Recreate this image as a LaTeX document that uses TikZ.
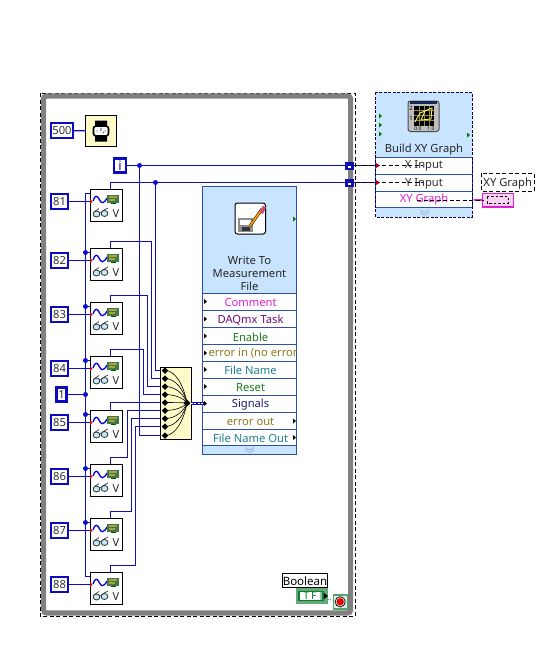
\documentclass[tikz,border=0pt]{standalone}
\usepackage{fontspec}
\usetikzlibrary{shapes.geometric}
\setmainfont{Noto Sans}
\newcommand{\lvfont}{\fontsize{11.2}{13}\selectfont}
\definecolor{wireblue}{HTML}{0C0CC8}
\definecolor{navywire}{HTML}{1010B0}
\definecolor{constblue}{HTML}{0A0AC0}
\definecolor{nodeblue}{HTML}{C8E4FF}
\definecolor{rowline}{HTML}{2A50A8}
\definecolor{loopgray}{HTML}{808080}
\definecolor{pale}{HTML}{FFFBC8}
\definecolor{magentatext}{HTML}{E020D0}
\definecolor{purpletext}{HTML}{700A70}
\definecolor{greentext}{HTML}{1F7A1F}
\definecolor{olivetext}{HTML}{8A7A20}
\definecolor{tealtext}{HTML}{1F7F8F}
\definecolor{navytext}{HTML}{1A1A70}
\definecolor{boolgreen}{HTML}{107A30}
\definecolor{chipgreen}{HTML}{3F7A45}
\definecolor{chipgold}{HTML}{B0A040}
\tikzset{
  x=1pt,y=-1pt,
  every node/.style={font=\lvfont,inner sep=0pt,outer sep=0pt},
  constbox/.style={draw=constblue,line width=2.4pt,fill=white,anchor=center,text=black!80},
  vibox/.style={draw=black,line width=1pt,fill=white,minimum width=32pt,minimum height=32pt,anchor=north west},
  wire/.style={draw=wireblue,line width=1.2pt},
  navy/.style={draw=navywire,line width=1.2pt},
  junction/.style={circle,fill=wireblue,minimum size=5pt},
  mdot/.style={diamond,fill=black,minimum size=6.5pt},
  rowbox/.style={draw=rowline,line width=0.8pt,fill=white,anchor=north west,minimum width=94.5pt},
  xyrow/.style={draw=rowline,line width=0.8pt,fill=white,anchor=north west,minimum width=96.5pt},
  brokenwire/.style={draw=black,line width=1pt,dash pattern=on 4pt off 2.5pt},
  termtri/.style={fill=black},
  vi/.pic={
    \draw[line width=1.3pt,color=blue!90!black] (3,12) .. controls (5,6) and (7,6) .. (9,10) .. controls (11,15) and (14,15) .. (17,9);
    \fill[chipgreen] (17,5.5) rectangle (29,13.5);
    \fill[chipgold] (19,7) rectangle (27,8.5);
    \fill[chipgold] (19,10) rectangle (25,11.5);
    \fill[green!35!black] (21,13.5) rectangle (26,15);
    \fill[red!85!black] (0,10) -- (2.5,12.5) -- (0,15) -- cycle;
    \draw[line width=0.8pt,color=black!80,fill=cyan!25] (6.5,25) ellipse (3.4 and 3);
    \draw[line width=0.8pt,color=black!80,fill=cyan!25] (14.5,24.5) ellipse (3.4 and 3);
    \draw[line width=0.7pt,color=black!80] (4.5,22.5) -- (9,19.5) (12.5,22) -- (18,19) (9.5,23.5) -- (11.5,23);
    \node[text=black!85,font=\fontsize{11}{11}\rmfamily] at (26,25) {V};
  }
}
\begin{document}
\begin{tikzpicture}
\useasboundingbox (0,0) rectangle (541,654);
\fill[white] (0,0) rectangle (541,654);

% while loop
\draw[brokenwire] (40,93) rectangle (355,616);
\draw[draw=loopgray,line width=5.2pt,rounded corners=3pt] (43.6,96) rectangle (350.6,613);

% VIs
\foreach \n/\y in {81/189,82/248,83/302,84/356,85/410,86/464,87/518,88/572}{
  \node[vibox] (vi\n) at (90,\y) {};
  \coordinate (top\n) at (110.5,\y);
  \coordinate (in\n) at (90,\y+12.5);
  \coordinate (dataIn\n) at (90,\y+4.5);
  \coordinate (bus\n) at (85.5,\y+4.5);
  \node[constbox,minimum width=17pt,minimum height=15.5pt] (c\n) at (59.5,\y+12.5) {\n};
}

% merge
\node[draw=black,line width=1pt,fill=pale,minimum width=31pt,minimum height=71.5pt,anchor=north west] (merge) at (160.5,367.5) {};
\coordinate (mout) at (187,403);
\foreach \i/\y in {1/370.5,2/378.5,3/386.5,4/394.5,5/402.5,6/410.5,7/418.5,8/426.5,9/435.5}{
  \coordinate (pin\i) at (160.5,\y);
  \draw[black,line width=0.6pt] (165,\y) .. controls (176,\y) and (184,{(\y+403)/2}) .. (mout);
  \node[mdot] (m\i) at (165,\y) {};
}
\node[diamond,fill=black,minimum size=7pt] (moutdot) at (mout) {};

% wait
\node[constbox,minimum width=22pt,minimum height=15.5pt] (c500) at (62,130.5) {500};
\node[draw=black,line width=1pt,fill=pale,minimum width=31pt,minimum height=31pt] (wait) at (101,131) {};
\fill[black] (95,120.5) rectangle (107,127) (95,135) rectangle (107,141.5);
\draw[black,line width=1.6pt,fill=white,rounded corners=2.5pt] (93.5,126) rectangle (108.5,136);
\draw[black,line width=0.8pt] (101,127.5) -- (101,131) (96.5,131) -- (97.5,131) (104.5,131) -- (105.5,131) (103,132) -- (103.5,132.5);
\draw[wire] (c500) -- (wait);

% i
\node[constbox,minimum width=12.5pt,minimum height=14pt,text=navywire,font=\fontsize{13}{13}\selectfont\bfseries] (iter) at (120,165.5) {i};

% write to measurement file
\node[draw=rowline,line width=0.8pt,fill=nodeblue,anchor=north west,minimum width=94.5pt,minimum height=268pt] (wmf) at (202.3,186.5) {};
\node[anchor=center,align=center,text=black!85] (wmft) at (249.5,273.5) {Write To\\Measurement\\File};
\foreach \nm/\t/\h/\lab/\col in {rc/293.3/17.3/Comment/magentatext,rd/310.6/17.2/DAQmx Task/purpletext,re/327.8/17/Enable/greentext,rf/344.8/16.5/{}/olivetext,rg/361.3/17/File Name/tealtext,rh/378.3/16.8/Reset/greentext,ri/395.1/17.2/Signals/navytext,rj/412.3/17.3/error out/olivetext,rk/429.6/16/File Name Out/tealtext}{
  \node[rowbox,minimum height=\h pt] (\nm) at (202.3,\t) {};
  \node[text=\col] at ([xshift=1pt,yshift=-0.7pt]\nm.center) {\lab};
}
\begin{scope}
\clip (203,345) rectangle (296,361);
\node[text=olivetext,anchor=west] (errin) at (208.5,353.3) {error in (no error};
\end{scope}
\foreach \y in {301.5,319,336,353,369.5,386.5,403.5}{\fill[termtri] (204,\y-2.5) -- (207,\y) -- (204,\y+2.5) -- cycle;}
\foreach \y in {421,437.5}{\fill[termtri] (293,\y-2.5) -- (296,\y) -- (293,\y+2.5) -- cycle;}
\fill[green!45!black] (293,216.5) -- (296,219) -- (293,221.5) -- cycle;
\draw[rowline!50,line width=0.6pt] (245,447.5) -- (249.5,450) -- (254,447.5) (245,450) -- (249.5,452.5) -- (254,450);
% write icon
\draw[black,line width=1pt,fill=white,rounded corners=2.5pt] (235,203) rectangle (265.5,234);
\fill[black!45] (238,218) rectangle (253,232);
\fill[white] (240,220) rectangle (251,225);
\fill[black!80] (242,227) rectangle (250,231);
\draw[black,line width=2.8pt] (250,226) -- (262,209);
\draw[orange!80!yellow,line width=1.9pt] (250,226) -- (262,209);
\fill[purple!70] (259.5,212) -- (263,214) -- (266,207.5) -- (263,205.5) -- cycle;

% build xy graph
\node[draw=none,fill=nodeblue,anchor=north west,minimum width=96.5pt,minimum height=125pt] (bxy) at (375.8,92.3) {};
\node[text=black!85] (bxyt) at (424,149.5) {Build XY Graph};
\node[xyrow,minimum height=17pt] (bx) at (375.8,157.3) {};
\node[xyrow,minimum height=17.5pt] (by) at (375.8,174.3) {};
\node[xyrow,minimum height=15.7pt] (bg) at (375.8,191.8) {};
\node[text=black!80] at (424,166) {X Input};
\node[text=black!80] at (424,183.5) {Y Input};
\node[text=magentatext] at (424,200) {XY Graph};
\draw[draw=black!70!blue,line width=1.1pt,dash pattern=on 3pt off 1.5pt] (bxy.north west) rectangle (bxy.south east);
\draw[rowline!50,line width=0.6pt] (420,210) -- (424.5,212.5) -- (429,210) (420,212.5) -- (424.5,215) -- (429,212.5);
\foreach \y in {116,125,134}{\fill[green!45!black] (379,\y-2.5) -- (382,\y) -- (379,\y+2.5) -- cycle;}
\fill[green!45!black] (467,132.5) -- (470,135) -- (467,137.5) -- cycle;
% build icon
\draw[black!70,line width=1pt,fill=black!25,rounded corners=2.5pt] (408,101) rectangle (439,131.5);
\fill[rowline!50!black] (410,101) rectangle (437,104);
\fill[black] (414,105.5) rectangle (434,125.5);
\draw[yellow!50!black,line width=0.4pt] (419,105.5) -- (419,125.5) (424,105.5) -- (424,125.5) (429,105.5) -- (429,125.5) (414,110) -- (434,110) (414,115) -- (434,115) (414,120) -- (434,120);
\draw[yellow!70!white,line width=0.9pt] (415,122) -- (420,113) -- (432,108) -- (431,119) -- (421,120) -- (425,111);
\node[font=\fontsize{6}{6}\selectfont,text=black] at (411,108) {2};
\node[font=\fontsize{6}{6}\selectfont,text=black] at (411,118) {1};
\node[font=\fontsize{5}{5}\selectfont,text=black] at (418,128.5) {0.0};
\node[font=\fontsize{5}{5}\selectfont,text=black] at (431,128.5) {1.0};

% wires
\coordinate (t1) at (349.5,165.5);
\coordinate (t2) at (349.5,182.5);
\draw[wire] (iter) -- (t1);
\draw[wire] (139.5,165.5) |- (pin9);
\node[junction] (ji) at (139.5,165.5) {};
\draw[navy] (top81) |- (t2);
\draw[wire] (155.5,182.5) |- (pin1);
\node[junction] (jw) at (155.5,182.5) {};
\draw[navy] (top82) |- (151.5,241.5) |- (pin2);
\draw[navy] (top83) |- (147.5,295.5) |- (pin3);
\draw[navy] (top84) |- (143.5,349.5) |- (pin4);
\draw[navy] (top85) |- (pin5);
\draw[navy] (top86) |- (127.5,457.5) |- (pin6);
\draw[navy] (top87) |- (131.5,511.5) |- (pin7);
\draw[navy] (top88) |- (135.5,565.5) |- (pin8);

% shared bus
\draw[wire] (dataIn81) -- (bus81) -- (bus88) -- (dataIn88);
\foreach \n in {82,83,84,85,86,87}{
  \draw[wire] (bus\n) -- (dataIn\n);
  \node[junction] at (bus\n) {};
}
\node[constbox,minimum width=10pt,minimum height=14pt] (cone) at (61.5,394.5) {1};
\coordinate (jonec) at (85.5,394.5);
\draw[wire] (cone) -- (jonec);
\node[junction] (jone) at (jonec) {};
\foreach \n in {81,82,83,84,85,86,87,88}{
  \draw[wire] (c\n) -- (in\n);
  \pic at (vi\n.north west) {vi};
}
% dynamic wire
\coordinate (sigin) at (204,403);
\draw[navywire,line width=3pt] (moutdot) -- (sigin);
\draw[white,line width=0.9pt,dash pattern=on 2pt off 1.5pt] (moutdot) -- (sigin);

% tunnels
\draw[navywire,line width=1.8pt] (t1) -- (378,165.5);
\draw[navywire,line width=1.8pt] (t2) -- (378,182.5);
\coordinate (xend) at (423,165.5);
\coordinate (yend) at (423,182.5);
\draw[brokenwire] (t1) -- (xend);
\draw[brokenwire] (t2) -- (yend);
\foreach \t in {t1,t2}{
  \node[draw=none,fill=navywire,minimum width=9pt,minimum height=8pt] (n\t) at (\t) {};
  \fill[white] ([xshift=-2pt,yshift=-0.5pt]\t) rectangle ++(3,1.5);
}
\fill[red!70!black] (376,163) -- (380,165.5) -- (376,168) -- cycle;
\fill[red!70!black] (376,180) -- (380,182.5) -- (376,185) -- cycle;

% xy graph terminal
\coordinate (gs) at (417,200);
\coordinate (ge) at (484,200);
\node[draw=magentatext,line width=1.4pt,fill=magentatext!20,minimum width=31pt,minimum height=13.5pt,anchor=north west] (xyterm) at (482.5,193.5) {};
\draw[magentatext,line width=1.8pt] (474,200) -- (xyterm);
\draw[brokenwire] (gs) -- (ge);
\draw[black,line width=0.9pt,dash pattern=on 2.5pt off 2pt] (487,196.5) rectangle (508,203.5);
\draw[brokenwire] (481,173.3) rectangle (534.5,191);
\node[text=black!85] (xylab) at (507.7,183.3) {XY Graph};

% stop
\node[draw=black,line width=1pt,fill=white,minimum width=45pt,minimum height=14pt,anchor=north west,text=black,font=\fontsize{11.5}{12}\selectfont] (boollab) at (282.5,573.7) {Boolean};
\node[draw=boolgreen!65,line width=1.4pt,fill=boolgreen!65,minimum width=31pt,minimum height=14pt,anchor=north west] (boolc) at (296.7,589) {};
\draw[boolgreen,line width=1.6pt,fill=white] (299,591.5) rectangle (323,600.5);
\fill[boolgreen!45] (319.5,592.3) rectangle (322.2,599.7);
\node[text=boolgreen,font=\fontsize{10.5}{11}\selectfont\bfseries] at (310,596) {T\,F};
\fill[black] (324,593) -- (328,596) -- (324,599) -- cycle;
\node[draw=boolgreen!70,line width=1.4pt,fill=boolgreen!12,minimum width=14pt,minimum height=14pt,anchor=north west] (stopn) at (333.2,594.8) {};
\draw[boolgreen,line width=0.8pt,dash pattern=on 1pt off 1.5pt] (boolc) -- (stopn);
\fill[black] (340.2,601.8) circle (5.5);
\fill[white!90!black] (340.2,601.8) circle (4.6);
\fill[red!90!black] (340.2,601.8) circle (3.7);
\end{tikzpicture}
\end{document}
